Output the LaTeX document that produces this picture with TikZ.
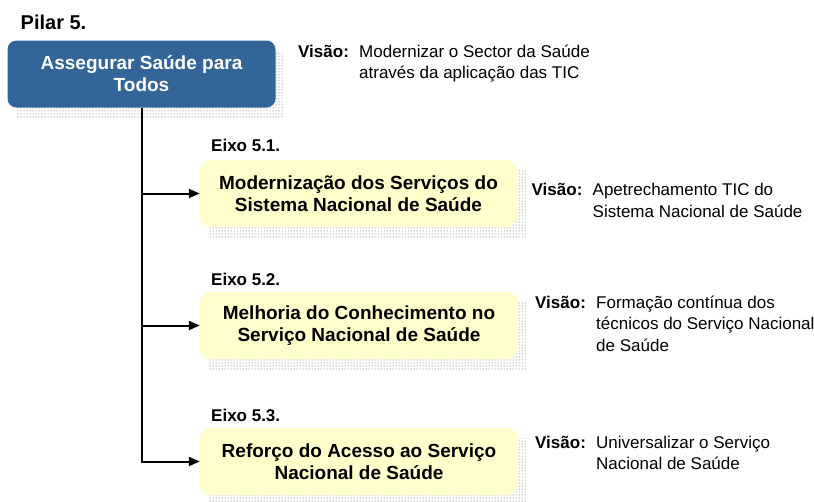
\documentclass[tikz,border=0pt]{standalone}
\usepackage{fontspec}
\setmainfont{Liberation Sans}
\usetikzlibrary{arrows.meta,patterns,backgrounds}

\definecolor{azulpilar}{RGB}{52,101,153}
\definecolor{amareloeixo}{RGB}{255,255,204}

\newcommand{\visaotab}[1]{\begin{tabular}[t]{@{}p{61pt}@{}l@{}}\textbf{Visão:} & #1\end{tabular}}

\tikzset{
  caixa/.style={rounded corners=11pt, align=center, inner sep=0pt,
    font=\bfseries\fontsize{19}{22}\selectfont},
  sombra/.style={pattern=dots, pattern color=black!65},
  seta/.style={line width=2pt, -{Triangle[length=11pt,width=9pt]}},
  rotulo/.style={anchor=base west, inner sep=0pt, font=\bfseries\fontsize{17}{20}\selectfont},
  visao/.style={anchor=base west, inner sep=0pt, font=\fontsize{17}{21.5}\selectfont}
}

\begin{document}
\begin{tikzpicture}[x=1pt,y=-1pt]
        \useasboundingbox (0,0) rectangle (814,501);

        \node[rotulo, font=\bfseries\fontsize{20}{24}\selectfont] (titulo) at (20.5,29) {Pilar 5.};

        \node[caixa, rounded corners=9pt, fill=azulpilar, text=white, minimum width=268pt, minimum height=67pt] (pilar) at (141.5,74) {Assegurar Saúde para\\Todos};
        \node[visao] (vpilar) at (298,57.3) {\visaotab{Modernizar o Sector da Saúde\\ & através da aplicação das TIC}};

        \node[rotulo] (r1) at (211,151.7) {Eixo 5.1.};
        \node[caixa, fill=amareloeixo, minimum width=317pt, minimum height=67pt] (eixo1) at (358.5,193.5) {Modernização dos Serviços do\\Sistema Nacional de Saúde};
        \node[visao] (v1) at (531.5,195.7) {\visaotab{Apetrechamento TIC do\\ & Sistema Nacional de Saúde}};

        \node[rotulo] (r2) at (211,285) {Eixo 5.2.};
        \node[caixa, fill=amareloeixo, minimum width=318pt, minimum height=67pt] (eixo2) at (359,325.5) {Melhoria do Conhecimento no\\Serviço Nacional de Saúde};
        \node[visao] (v2) at (535,308) {\visaotab{Formação contínua dos\\ & técnicos do Serviço Nacional\\ & de Saúde}};

        \node[rotulo] (r3) at (211,421.7) {Eixo 5.3.};
        \node[caixa, fill=amareloeixo, minimum width=318pt, minimum height=67pt] (eixo3) at (359,461.5) {Reforço do Acesso ao Serviço\\Nacional de Saúde};
        \node[visao] (v3) at (535,448.3) {\visaotab{Universalizar o Serviço\\ & Nacional de Saúde}};

        \begin{scope}[on background layer]
            \foreach \n in {pilar,eixo1,eixo2,eixo3}
                \fill[sombra] ([shift={(9,11)}]\n.north west) rectangle ([shift={(9,11)}]\n.south east);
        \end{scope}

        \draw[seta] (pilar.south) |- (eixo3.west);
        \draw[seta] (pilar.south |- eixo1.west) -- (eixo1.west);
        \draw[seta] (pilar.south |- eixo2.west) -- (eixo2.west);

    \end{tikzpicture}
\end{document}
